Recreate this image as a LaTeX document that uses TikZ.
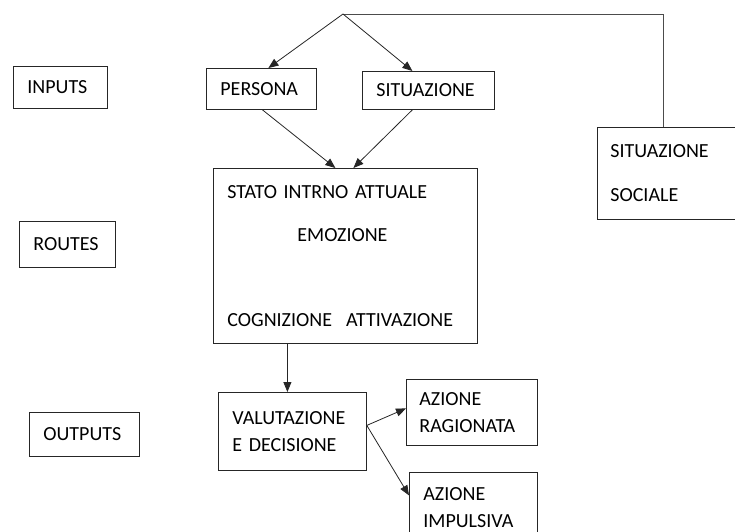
\documentclass[tikz,border=0pt]{standalone}
\usepackage{fontspec}
\setmainfont{Carlito}
\usepackage{tikz}
\usetikzlibrary{arrows.meta}

\tikzset{
  stepbox/.style={draw=black!85, line width=0.8pt, anchor=north west, align=left,
    inner xsep=14pt, inner ysep=0pt, font=\fontsize{20}{27}\selectfont},
  flow/.style={draw=black!85, line width=0.8pt, -{Triangle[length=10pt, width=8pt]}},
  link/.style={draw=black!70, line width=0.8pt}
}

\begin{document}
\begin{tikzpicture}[x=1pt, y=-1pt]
  \useasboundingbox (0,0) rectangle (735,531);
  \clip (0,0) rectangle (735,531);

  % Levels on the left
  \node[stepbox, text width=66pt, minimum height=42pt] (inputs) at (13,66) {INPUTS};
  \node[stepbox, text width=68pt, minimum height=46pt] (routes) at (19,221) {ROUTES};
  \node[stepbox, text width=82pt, minimum height=44pt] (outputs) at (29,412) {OUTPUTS};

  % Inputs
  \node[stepbox, text width=82pt, minimum height=41pt] (persona) at (206,68) {PERSONA};
  \node[stepbox, text width=104pt, minimum height=38pt] (situazione) at (362,71) {SITUAZIONE};
  \node[stepbox, inner xsep=13pt, text width=134pt, minimum height=92pt] (sociale) at (597,127) {
    SITUAZIONE\\[17pt]SOCIALE
  };

  % Internal state
  \node[stepbox, text width=236pt, minimum height=175pt] (stato) at (213,168) {
    STATO INTRNO ATTUALE\\[16pt]
    \hspace*{70pt}EMOZIONE\\[58pt]
    COGNIZIONE\hspace{14pt}ATTIVAZIONE
  };

  % Outputs
  \node[stepbox, text width=120pt, minimum height=78pt] (valutazione) at (218,392) {
    VALUTAZIONE\\E DECISIONE
  };
  \node[stepbox, inner xsep=13pt, text width=105pt, minimum height=66pt] (ragionata) at (406,379) {
    AZIONE\\RAGIONATA
  };
  \node[stepbox, text width=100pt, minimum height=70pt] (impulsiva) at (409,472) {
    AZIONE\\IMPULSIVA
  };

  % Connectors
  \coordinate (top) at (343,14);
  \coordinate (corner) at (663,14);
  \draw[link] (top) -- (corner) -- (corner |- sociale.north);
  \draw[flow] (top) -- ([xshift=7pt]persona.north);
  \draw[flow] (top) -- ([xshift=-16pt]situazione.north);
  \draw[flow] ([xshift=1pt]persona.south) -- ([xshift=-10pt]stato.north);
  \draw[flow] ([xshift=-16pt]situazione.south) -- ([xshift=8pt]stato.north);
  \draw[flow] ([xshift=-58pt]stato.south) -- ([xshift=-58pt]stato.south |- valutazione.north);
  \draw[flow] ([yshift=6pt]valutazione.east) -- ([yshift=4pt]ragionata.west);
  \draw[flow] ([yshift=6pt]valutazione.east) -- ([yshift=12pt]impulsiva.west);
\end{tikzpicture}
\end{document}
